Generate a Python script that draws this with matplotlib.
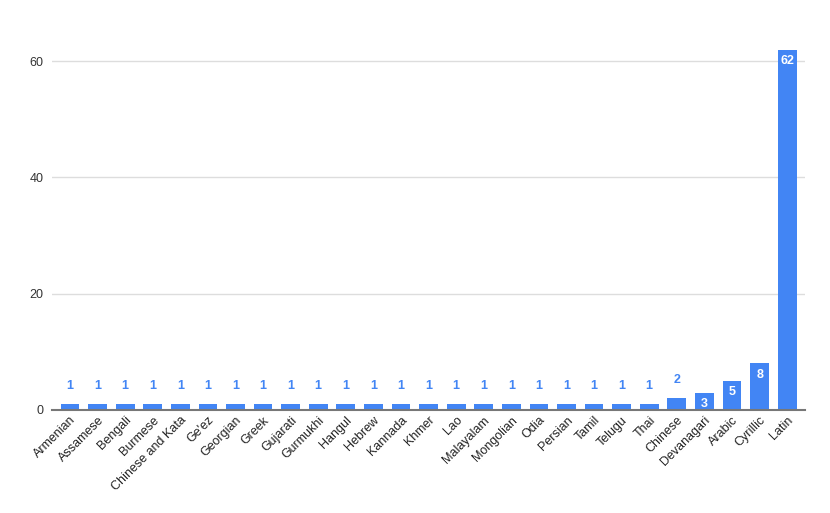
import matplotlib
matplotlib.use('Agg')
import matplotlib.pyplot as plt
import numpy as np

scripts = ['Armenian', 'Assamese', 'Bengali', 'Burmese', 'Chinese and Kata', "Ge'ez",
           'Georgian', 'Greek', 'Gujarati', 'Gurmukhi', 'Hangul', 'Hebrew', 'Kannada',
           'Khmer', 'Lao', 'Malayalam', 'Mongolian', 'Odia', 'Persian', 'Tamil', 'Telugu',
           'Thai', 'Chinese', 'Devanagari', 'Arabic', 'Cyrillic', 'Latin']
counts = [1, 1, 1, 1, 1, 1, 1, 1, 1, 1, 1, 1, 1, 1, 1, 1, 1, 1, 1, 1, 1, 1, 2, 3, 5, 8, 62]
y_ticks = [0, 20, 40, 60]

plt.rcParams['font.family'] = ['Liberation Sans', 'DejaVu Sans']
blue = '#4285F4'

fig = plt.figure(figsize=(8.3, 5.13), dpi=100)
ax = fig.add_axes([0.0627, 0.2008, 0.9073, 0.7027])

x = np.arange(len(scripts))
ax.bar(x, counts, width=0.68, color=blue, zorder=3)

ax.set_xlim(-0.65, len(scripts) - 0.35)
ax.set_ylim(0, 62)
ax.set_yticks(y_ticks)
ax.yaxis.grid(True, color='#dddddd', linewidth=1, zorder=0)
ax.tick_params(axis='y', length=0, pad=6, labelsize=9, labelcolor='#333333')
ax.tick_params(axis='x', length=0, pad=3)
ax.set_xticks(x)
ax.set_xticklabels(scripts, rotation=45, ha='right', rotation_mode='anchor',
                   fontsize=9, color='#222222')

for s in ['top', 'right', 'left']:
    ax.spines[s].set_visible(False)
ax.spines['bottom'].set_color('#777777')
ax.spines['bottom'].set_linewidth(1.5)
ax.spines['bottom'].set_zorder(4)

# value labels: above short bars, inside taller ones
for xi, v in zip(x, counts):
    if v >= 3:
        ax.annotate(str(v), (xi, v), xytext=(0, -8), textcoords='offset points',
                    ha='center', va='center', color='white', fontsize=9,
                    fontweight='bold', zorder=5)
    else:
        ax.annotate(str(v), (xi, v), xytext=(0, 13), textcoords='offset points',
                    ha='center', va='center', color=blue, fontsize=9,
                    fontweight='bold', zorder=5)

fig.savefig('out.png', dpi=100)
